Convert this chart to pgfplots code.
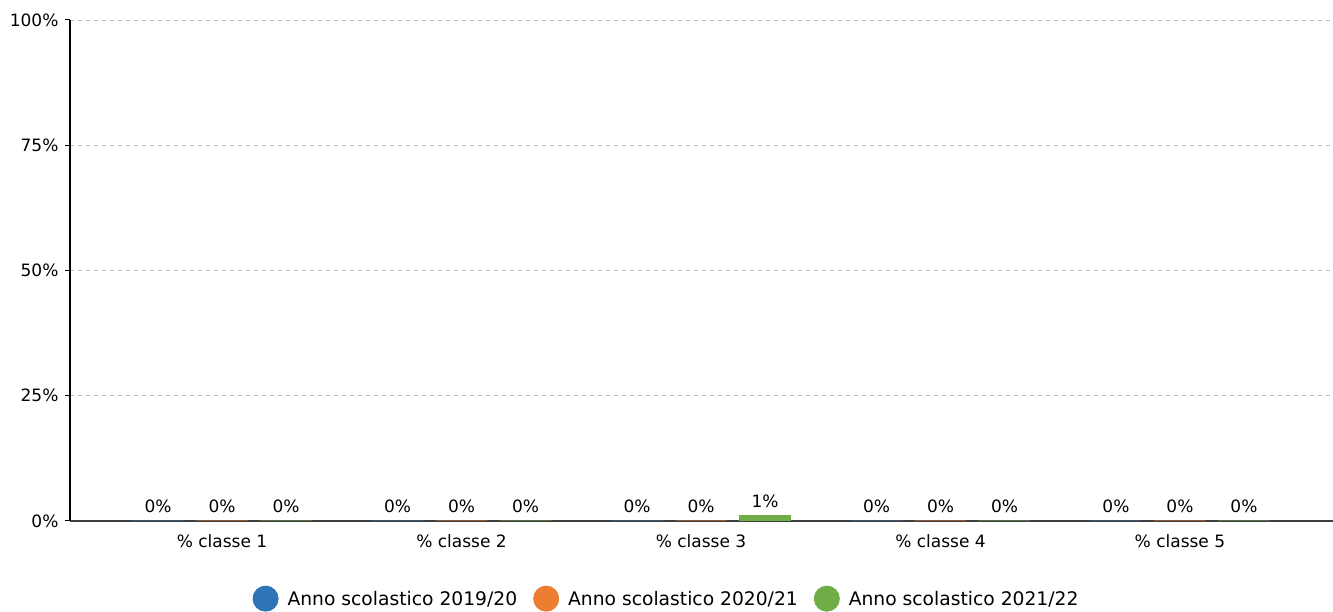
\documentclass[border=0pt]{standalone}
\usepackage{pgfplots}
\pgfplotsset{compat=1.18}
\usepackage{fontspec}
\setmainfont{DejaVu Sans}
\definecolor{cA}{HTML}{2E75B6}
\definecolor{cB}{HTML}{ED7D31}
\definecolor{cC}{HTML}{70AD47}
\begin{document}
\begin{tikzpicture}
\useasboundingbox (-70pt,-91pt) rectangle (1263pt,521pt);
\begin{axis}[
  at={(0pt,0pt)}, anchor=south west,
  scale only axis, width=1263pt, height=501pt,
  xmin=-0.635, xmax=4.639, ymin=0, ymax=100,
  ybar=13pt, bar width=51pt,
  axis lines*=left,
  x axis line style={draw=black!75, line width=1.5pt},
  y axis line style={draw=black, line width=2pt},
  xtick={0,1,2,3,4},
  xticklabels={\% classe 1,\% classe 2,\% classe 3,\% classe 4,\% classe 5},
  x tick style={draw=none},
  ytick={0,25,50,75,100},
  yticklabel={\pgfmathprintnumber{\tick}\%},
  /pgf/number format/assume math mode=true,
  tick align=outside, major tick length=5pt,
  y tick style={black, line width=1pt},
  ymajorgrids, grid style={dash pattern=on 4pt off 4pt, black!25, line width=0.8pt},
  ticklabel style={font=\fontsize{17}{20}\selectfont},
  xticklabel style={yshift=-5pt},
  yticklabel style={xshift=-3pt},
  nodes near coords={\pgfmathprintnumber{\pgfplotspointmeta}\%},
  every node near coord/.append style={font=\fontsize{17}{20}\selectfont, yshift=4pt},
  legend style={at={(0.4723,-0.155)}, anchor=center, draw=none, legend columns=3,
    font=\fontsize{18.7}{22}\selectfont,
    /tikz/every even column/.append style={column sep=14pt}},
  legend image code/.code={\fill[#1] (0pt,0pt) circle (12.5pt); \path[draw=none,fill=none] (12.5pt,0pt) -- (20pt,0pt);},
]
\addplot[fill=cA, draw=cA, line width=1pt] coordinates {(0,0) (1,0) (2,0) (3,0) (4,0)};
\addplot[fill=cB, draw=cB, line width=1pt] coordinates {(0,0) (1,0) (2,0) (3,0) (4,0)};
\addplot[fill=cC, draw=cC, line width=1pt] coordinates {(0,0) (1,0) (2,1) (3,0) (4,0)};
\legend{Anno scolastico 2019/20,Anno scolastico 2020/21,Anno scolastico 2021/22}
\end{axis}
\end{tikzpicture}
\end{document}
